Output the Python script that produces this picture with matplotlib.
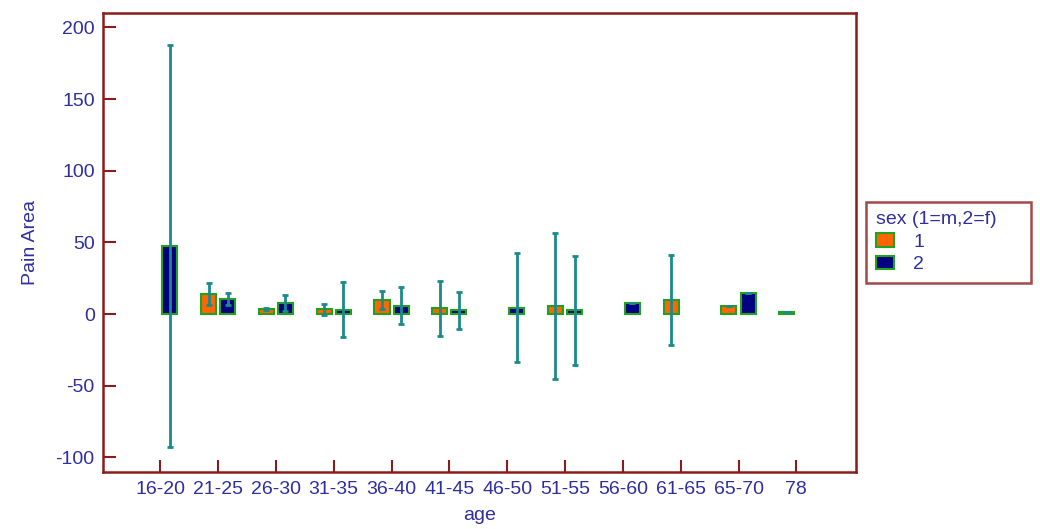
import numpy as np
import matplotlib
matplotlib.use("Agg")
import matplotlib.pyplot as plt

# ---- data ----
age_groups = ["16-20", "21-25", "26-30", "31-35", "36-40", "41-45",
              "46-50", "51-55", "56-60", "61-65", "65-70", "78"]
sex1_mean = [np.nan, 14.0, 3.5, 3.2, 9.5, 4.0, np.nan, 5.6, np.nan, 10.0, 5.5, 1.5]
sex1_err = [np.nan, 7.8, 1.0, 3.9, 6.3, 19.2, np.nan, 50.7, np.nan, 31.4, 0.0, 0.0]
sex2_mean = [47.5, 10.5, 7.9, 3.1, 5.8, 2.5, 4.5, 2.7, 7.5, np.nan, 14.4, np.nan]
sex2_err = [140.0, 4.0, 5.5, 19.4, 12.8, 12.6, 38.2, 38.0, 0.0, np.nan, 0.0, np.nan]
yticks = [-100, -50, 0, 50, 100, 150, 200]

# ---- style ----
plt.rcParams['font.family'] = ['Liberation Sans', 'DejaVu Sans']
plt.rcParams['axes.unicode_minus'] = False
TXT = "#2E2E9E"
SPINE = "#8B1C1C"
ORANGE = "#FF6600"
NAVY = "#000080"
EDGE = "#22A022"
ERR = "#1A8A8A"
FS = 14

fig = plt.figure(figsize=(10.40, 5.29), dpi=100)
ax = fig.add_axes([0.099, 0.1083, 0.724, 0.867])

x = np.arange(len(age_groups))
w = 0.26
off = 0.165

for means, errs, col, dx, lab in [(sex1_mean, sex1_err, ORANGE, -off, "1"),
                                  (sex2_mean, sex2_err, NAVY, off, "2")]:
    m = np.array(means, dtype=float)
    e = np.array(errs, dtype=float)
    ok = ~np.isnan(m)
    ax.bar(x[ok] + dx, m[ok], width=w, color=col, edgecolor=EDGE,
           linewidth=1.5, label=lab, zorder=2)
    ax.errorbar(x[ok] + dx, m[ok], yerr=e[ok], fmt='none', ecolor=ERR,
                elinewidth=2, capsize=2, capthick=2, zorder=3)

ax.set_xlim(-0.99, 12.03)
ax.set_ylim(-110, 210)
ax.set_xticks(x)
ax.set_xticklabels(age_groups)
ax.set_yticks(yticks)
ax.tick_params(axis='both', direction='in', length=9, width=1.5,
               color=SPINE, labelcolor=TXT, labelsize=FS)
ax.tick_params(axis='x', pad=7)
ax.tick_params(axis='y', pad=6)
for s in ax.spines.values():
    s.set_color(SPINE)
    s.set_linewidth(1.8)

ax.set_xlabel("age", color=TXT, fontsize=FS, labelpad=6)
ax.set_ylabel("Pain Area", color=TXT, fontsize=FS, labelpad=12)

leg = ax.legend(title="sex (1=m,2=f)", loc='center left',
                bbox_to_anchor=(1.014, 0.40, 0.219, 0.2), mode='expand',
                fontsize=FS, title_fontsize=FS,
                frameon=True, fancybox=False, alignment='left',
                handlelength=0.9, handleheight=0.7, handletextpad=1.0,
                borderpad=0.5, labelspacing=0.25, borderaxespad=0)
leg.get_frame().set_edgecolor(SPINE)
leg.get_frame().set_linewidth(1.8)
leg.get_title().set_color(TXT)
for t in leg.get_texts():
    t.set_color(TXT)

fig.savefig("out.png", dpi=100)
